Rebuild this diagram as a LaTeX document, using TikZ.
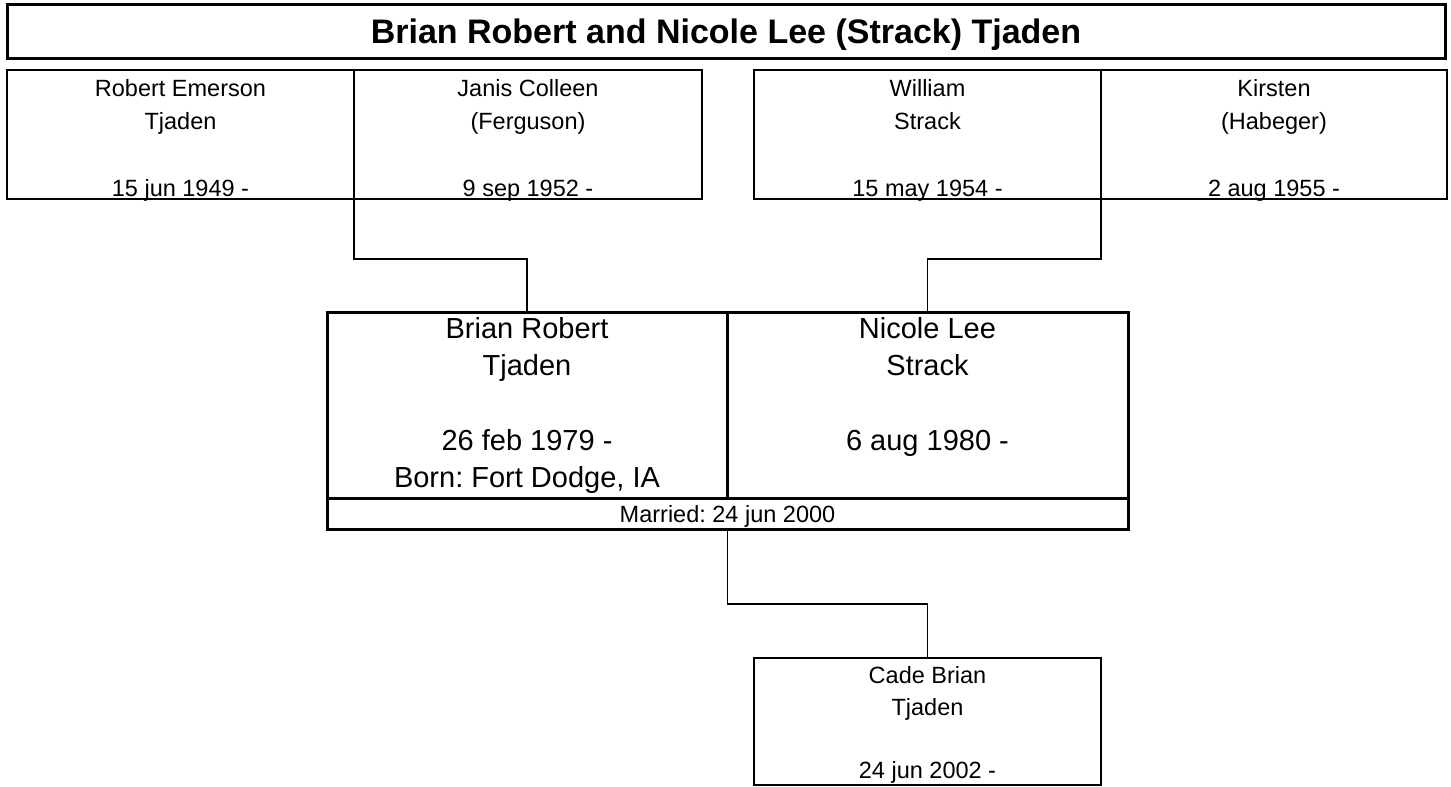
\documentclass[tikz,border=0pt]{standalone}
\usepackage{fontspec}
\setmainfont{Liberation Sans}
\frenchspacing
\begin{document}
\begin{tikzpicture}[x=1pt,y=-1pt,
  thinbox/.style={draw,line width=1.5pt,rectangle,inner sep=0pt,outer sep=0pt},
  thickbox/.style={draw,line width=3pt,rectangle,inner sep=0pt,outer sep=0pt},
  smalltext/.style={align=center,inner sep=0pt,font=\fontsize{23.5}{33.3}\selectfont},
  bigtext/.style={align=center,inner sep=0pt,font=\fontsize{29}{37.3}\selectfont},
  conn/.style={line width=1.5pt}]
\useasboundingbox (0,0) rectangle (1451,787);
\fill[white] (0,0) rectangle (1451,787);
% title
\node[draw,line width=3pt,minimum width=1438pt,minimum height=54pt,inner sep=0pt,
  text height=24.5pt,text depth=0pt,
  font=\fontsize{34}{40}\selectfont\bfseries] (title) at (726,31) {Brian Robert and Nicole Lee (Strack) Tjaden};
% parents
\node[thinbox,minimum width=347pt,minimum height=129pt] (f1) at (180.5,134.5) {};
\node[thinbox,minimum width=348pt,minimum height=129pt] (m1) at (528,134.5) {};
\node[thinbox,minimum width=347pt,minimum height=129pt] (f2) at (927.5,134.5) {};
\node[thinbox,minimum width=346pt,minimum height=129pt] (m2) at (1274,134.5) {};
\node[smalltext] (f1t) at (180.5,140.5) {Robert Emerson\\Tjaden\\\strut\\15 jun 1949 -};
\node[smalltext] (m1t) at (528,140.5) {Janis Colleen\\(Ferguson)\\\strut\\9 sep 1952 -};
\node[smalltext] (f2t) at (927.5,140.5) {William\\Strack\\\strut\\15 may 1954 -};
\node[smalltext] (m2t) at (1274,140.5) {Kirsten\\(Habeger)\\\strut\\2 aug 1955 -};
% couple
\node[thickbox,minimum width=400pt,minimum height=186pt] (b) at (527,405) {};
\node[thickbox,minimum width=401pt,minimum height=186pt] (n) at (927.5,405) {};
\node[bigtext] (bt) at (527,405.5) {Brian Robert\\Tjaden\\\strut\\26 feb 1979 -\\Born: Fort Dodge, IA};
\node[bigtext] (nt) at (927.5,386.8) {Nicole Lee\\Strack\\\strut\\6 aug 1980 -};
\node[thickbox,minimum width=801pt,minimum height=31pt,text height=17pt,text depth=0pt,
  font=\fontsize{23.5}{28}\selectfont] (band) at (727.5,513.5) {Married: 24 jun 2000};
% child
\node[thinbox,minimum width=347pt,minimum height=127pt] (c) at (927.5,721.5) {};
\node[smalltext,font=\fontsize{23.5}{31.7}\selectfont] (ct) at (927.5,725) {Cade Brian\\Tjaden\\\strut\\24 jun 2002 -};
% connectors
\draw[conn] (m1.south west) -- ++(0,60) -| (b.north);
\draw[conn] (m2.south west) -- ++(0,60) -| (n.north);
\draw[conn] (band.south) -- ++(0,75) -| (c.north);
\end{tikzpicture}
\end{document}
